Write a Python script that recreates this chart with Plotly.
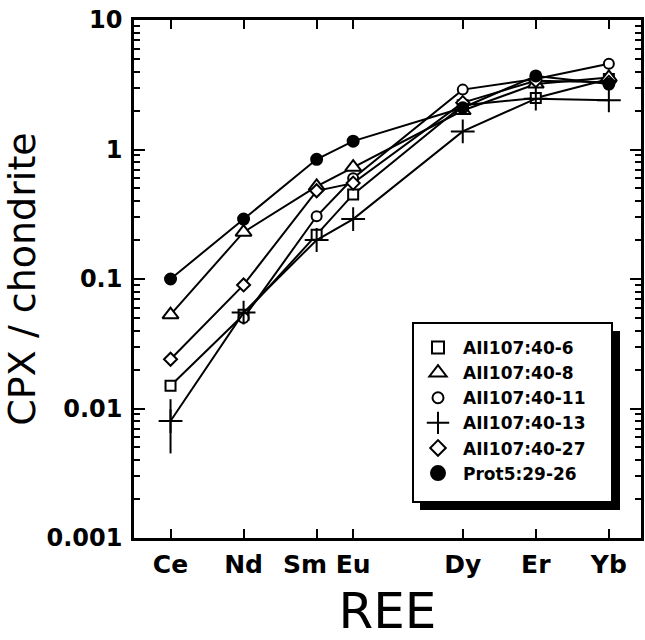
import plotly.graph_objects as go

# ---- data ----
ree = ["Ce", "Nd", "Sm", "Eu", "Dy", "Er", "Yb"]
atomic_no = [58, 60, 62, 63, 66, 68, 70]

names = ["AII107:40-6", "AII107:40-8", "AII107:40-11", "AII107:40-13", "AII107:40-27", "Prot5:29-26"]
s_40_6 = [0.015, 0.053, 0.22, 0.45, 2.2, 2.5, 3.5]
s_40_8 = [0.053, 0.23, 0.52, 0.73, 2.0, 3.2, 3.6]
s_40_11 = [None, 0.050, 0.305, 0.6, 2.9, 3.5, 4.6]
s_40_13 = [0.008, 0.055, 0.20, 0.29, 1.38, 2.47, 2.4]
s_40_27 = [0.024, 0.09, 0.48, 0.55, 2.3, 3.4, 3.3]
s_prot5 = [0.10, 0.29, 0.84, 1.16, 2.1, 3.7, 3.2]
err_40_13_plus = [0.0038, 0, 0, 0, 0, 0, 0]
err_40_13_minus = [0.0035, 0, 0, 0, 0, 0, 0]

yticks = [0.001, 0.01, 0.1, 1, 10]
yticktext = ["0.001", "0.01", "0.1", "1", "10"]
minor_yticks = [k * 10.0 ** e for e in range(-3, 1) for k in range(2, 10)]

series = [s_40_6, s_40_8, s_40_11, s_40_13, s_40_27, s_prot5]
symbols = ["square", "triangle-up", "circle", "cross-thin", "diamond", "circle"]
fills = ["white", "white", "white", "black", "white", "black"]
sizes = [10, 14, 10, 17, 10, 11]
leg_sizes = [12, 15, 11, 17, 12, 14]

# labels that sit off-centre from their tick in the original (pixel nudge)
label_nudge = {"Sm": -12}

# ---- layout geometry (pixels) ----
W, H = 645, 640
L, R, T, B = 134, 4, 20, 102
pw, ph = W - L - R, H - T - B

def px(x):
    return (x - L) / pw

def py(y):
    return (H - B - y) / ph

fig = go.Figure()
for i, (vals, sym, fc, sz) in enumerate(zip(series, symbols, fills, sizes)):
    kw = {}
    if i == 3:
        kw["error_y"] = dict(type="data", symmetric=False, array=err_40_13_plus,
                             arrayminus=err_40_13_minus, color="black", thickness=2, width=0)
    fig.add_trace(go.Scatter(
        x=atomic_no, y=vals, mode="lines+markers", connectgaps=False,
        line=dict(color="black", width=2),
        marker=dict(symbol=sym, size=sz, color=fc, line=dict(color="black", width=2)),
        showlegend=False, **kw))

# legend-only marker entries
for name, sym, fc, sz in zip(names, symbols, fills, leg_sizes):
    fig.add_trace(go.Scatter(
        x=[None], y=[None], mode="markers", name=name,
        marker=dict(symbol=sym, size=sz, color=fc, line=dict(color="black", width=2))))

# legend frame with drop shadow
fig.add_shape(type="rect", xref="paper", yref="paper",
              x0=px(420), x1=px(620), y0=py(510), y1=py(331),
              fillcolor="black", line=dict(width=0), layer="above")
fig.add_shape(type="rect", xref="paper", yref="paper",
              x0=px(413), x1=px(612), y0=py(502), y1=py(323),
              fillcolor="white", line=dict(color="black", width=2), layer="above")

bold_font = "DejaVu Sans, Verdana, sans-serif"
tick_size = 25

# nudged tick labels drawn as annotations at their tick position
for xv, lab in zip(atomic_no, ree):
    if lab in label_nudge:
        fig.add_annotation(x=xv, xref="x", y=0, yref="paper", text=lab, showarrow=False,
                           xanchor="center", yanchor="middle", xshift=label_nudge[lab], yshift=-26,
                           font=dict(size=tick_size, weight="bold", family=bold_font, color="black"))

fig.update_layout(
    width=W, height=H,
    margin=dict(l=L, r=R, t=T, b=B, pad=0, autoexpand=False),
    paper_bgcolor="white", plot_bgcolor="white",
    font=dict(family=bold_font, color="black"),
    legend=dict(x=px(413), y=py(330), xanchor="left", yanchor="top",
                bgcolor="rgba(0,0,0,0)", borderwidth=0,
                font=dict(size=17, family=bold_font, color="black", weight="bold"),
                tracegroupgap=0, itemwidth=40),
    xaxis=dict(range=[57, 70.88], tickmode="array", tickvals=atomic_no,
               ticktext=["" if t in label_nudge else t for t in ree],
               tickangle=0, automargin=False,
               ticks="inside", ticklen=9, tickwidth=2, tickcolor="black",
               showline=True, linewidth=2.5, linecolor="black", mirror="ticks",
               showgrid=False, zeroline=False,
               tickfont=dict(size=tick_size, weight="bold"), ticklabelstandoff=2,
               title=dict(text="REE", font=dict(size=50), standoff=27)),
    yaxis=dict(type="log", range=[-3, 1], tickmode="array", tickvals=yticks, ticktext=yticktext,
               tickangle=0, automargin=False,
               ticks="inside", ticklen=11, tickwidth=2, tickcolor="black",
               showline=True, linewidth=2.5, linecolor="black", mirror="ticks",
               showgrid=False, zeroline=False,
               minor=dict(tickmode="array", tickvals=minor_yticks, ticks="inside", ticklen=6,
                          tickwidth=1.5, tickcolor="black", showgrid=False),
               tickfont=dict(size=24, weight="bold"), ticklabelstandoff=4,
               title=dict(text="CPX / chondrite", font=dict(size=38), standoff=14)),
)

fig.write_html("out.html")
